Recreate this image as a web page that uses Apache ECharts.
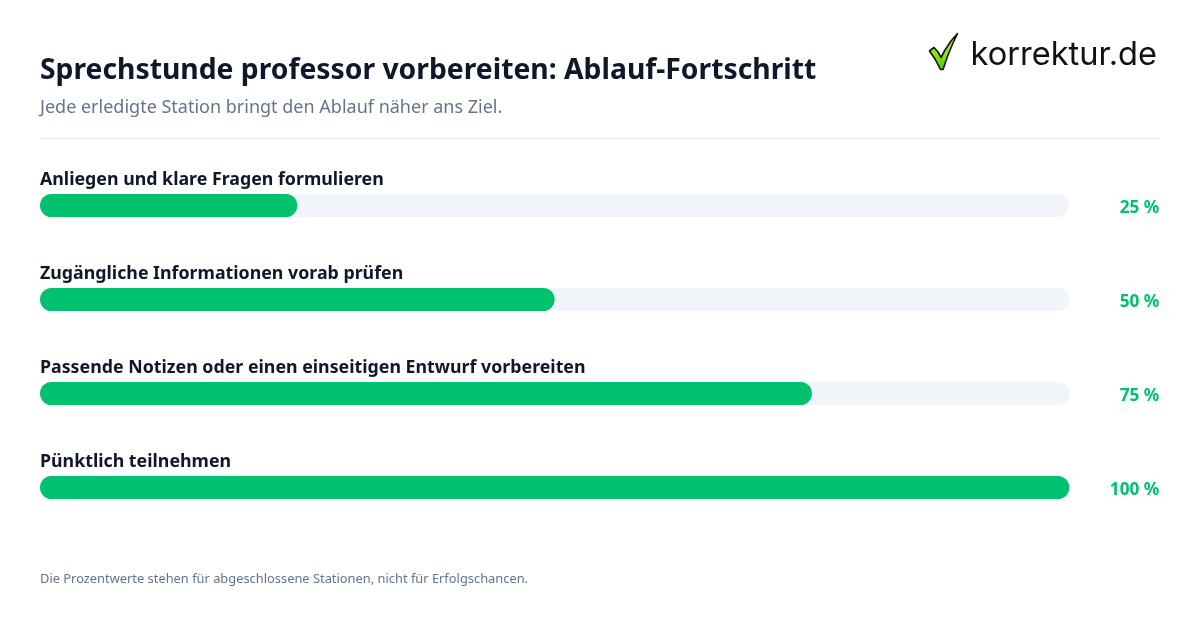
<!DOCTYPE html>
<html><head><meta charset="utf-8">
<style>html,body{margin:0;padding:0;background:#fff}#c{width:1200px;height:630px}</style>
<script src="https://cdn.jsdelivr.net/npm/echarts@6/dist/echarts.min.js"></script>
</head><body><div id="c"></div>
<script>
const categories = ["Anliegen und klare Fragen formulieren","Zugängliche Informationen vorab prüfen","Passende Notizen oder einen einseitigen Entwurf vorbereiten","Pünktlich teilnehmen"];
const values = [25,50,75,100];
const valueLabels = ["25 %","50 %","75 %","100 %"];
const titleText = "Sprechstunde professor vorbereiten: Ablauf-Fortschritt";
const subtitleText = "Jede erledigte Station bringt den Ablauf näher ans Ziel.";
const footerText = "Die Prozentwerte stehen für abgeschlossene Stationen, nicht für Erfolgschancen.";
const logoText = "korrektur.de";
const font = "Noto Sans";
const chart = echarts.init(document.getElementById('c'),null,{renderer:'canvas'});
chart.setOption({
  animation:false,
  backgroundColor:'#ffffff',
  title:[{text:titleText,left:40,top:49.5,padding:0,textStyle:{fontFamily:font,fontSize:28.3,fontWeight:700,color:'#0f172a',lineHeight:42}},
         {text:subtitleText,left:40,top:95,padding:0,textStyle:{fontFamily:font,fontSize:18,fontWeight:400,color:'#64748b',lineHeight:26}}],
  grid:{left:40,top:158.5,width:1029.3,height:376},
  xAxis:{type:'value',min:0,max:100,show:false},
  yAxis:[{type:'category',inverse:true,data:categories,axisLine:{show:false},axisTick:{show:false},axisLabel:{show:false}},
         {type:'category',inverse:true,position:'right',data:valueLabels,axisLine:{show:false},axisTick:{show:false},
          axisLabel:{align:'right',verticalAlign:'top',lineHeight:6,margin:90,fontFamily:font,fontSize:17.2,fontWeight:700,color:'#00c26e'}}],
  series:[{type:'bar',data:values,barWidth:23,yAxisIndex:0,
    showBackground:true,backgroundStyle:{color:'#f1f5f9',borderRadius:11.5},
    itemStyle:{color:'#00c26e',borderRadius:11.5},
    label:{show:true,position:[0,-23],formatter:p=>categories[p.dataIndex],fontFamily:font,fontSize:17.8,fontWeight:700,color:'#0f172a'}}],
  graphic:[
   {type:'line',shape:{x1:40,y1:138.5,x2:1160,y2:138.5},style:{stroke:'#e2e8f0',lineWidth:1}},
   {type:'text',x:40,y:573,style:{text:footerText,fontFamily:font,fontSize:12.87,fill:'#64748b'}},
   {type:'text',x:970.5,y:39,style:{text:logoText,fontFamily:'Inter',fontSize:32.6,fontWeight:400,fill:'#111111'}},
   {type:'polygon',shape:{points:[[929.5,51],[934,47.5],[938,52],[941,57.5],[945,50],[951,41],[957.5,33.5],[953,43],[948,55],[943,69.5],[940.5,69.5],[935,59]]},
    style:{fill:new echarts.graphic.LinearGradient(0,0,0,1,[{offset:0,color:'#b4f500'},{offset:0.6,color:'#8ee800'},{offset:1,color:'#3fc020'}]),stroke:'#111',lineWidth:1.6,lineJoin:'round'}}
  ]
});
</script></body></html>
